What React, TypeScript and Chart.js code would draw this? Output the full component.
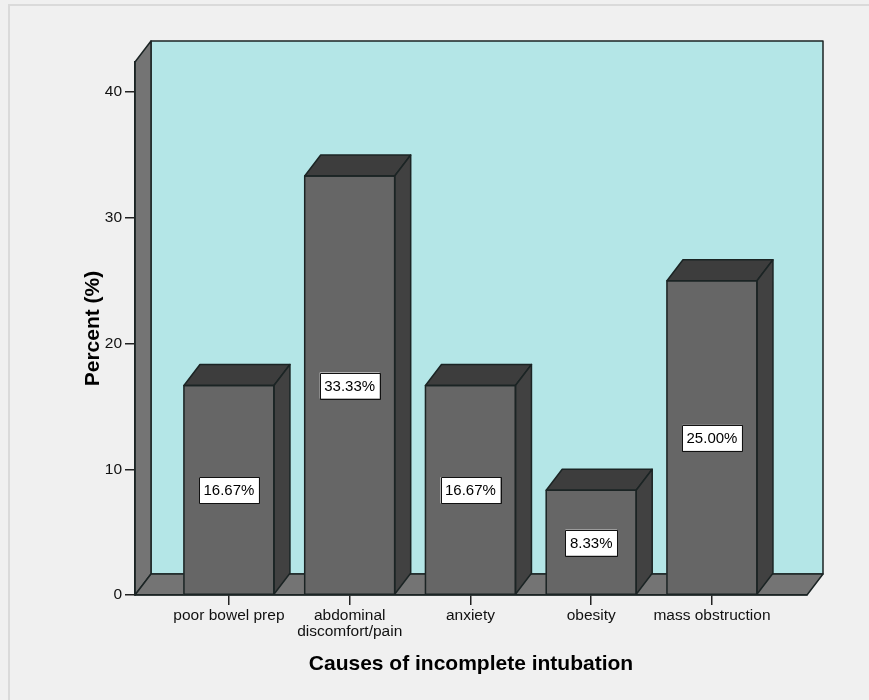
import React, { useEffect, useRef } from "react";
import { Chart, registerables } from "chart.js";

Chart.register(...registerables);

const categories: (string | string[])[] = [
  "poor bowel prep",
  ["abdominal", "discomfort/pain"],
  "anxiety",
  "obesity",
  "mass obstruction",
];
const percentValues = [16.67, 33.33, 16.67, 8.33, 25.0];
const percentLabels = ["16.67%", "33.33%", "16.67%", "8.33%", "25.00%"];
const yTickValues = [0, 10, 20, 30, 40];
const xTitle = "Causes of incomplete intubation";
const yTitle = "Percent (%)";

const DX = 16;
const DY = -21;
const OUTLINE = "#1b2424";

const threeD = {
  id: "threeD",
  beforeDraw(chart: any) {
    const ctx = chart.ctx;
    const { left, right, top, bottom } = chart.chartArea;
    ctx.save();
    ctx.fillStyle = "#f0f0f0";
    ctx.fillRect(0, 0, chart.width, chart.height);
    ctx.strokeStyle = "#dadada";
    ctx.lineWidth = 2;
    ctx.beginPath();
    ctx.moveTo(9, chart.height);
    ctx.lineTo(9, 5);
    ctx.lineTo(chart.width, 5);
    ctx.stroke();

    ctx.lineWidth = 1.5;
    ctx.strokeStyle = OUTLINE;
    ctx.lineJoin = "round";
    // back wall
    ctx.fillStyle = "#b4e6e7";
    ctx.beginPath();
    ctx.rect(left + DX, top + DY, right - left, bottom - top);
    ctx.fill();
    ctx.stroke();
    // left wall
    ctx.fillStyle = "#747474";
    ctx.beginPath();
    ctx.moveTo(left, top);
    ctx.lineTo(left + DX, top + DY);
    ctx.lineTo(left + DX, bottom + DY);
    ctx.lineTo(left, bottom);
    ctx.closePath();
    ctx.fill();
    ctx.stroke();
    // floor
    ctx.beginPath();
    ctx.moveTo(left, bottom);
    ctx.lineTo(left + DX, bottom + DY);
    ctx.lineTo(right + DX, bottom + DY);
    ctx.lineTo(right, bottom);
    ctx.closePath();
    ctx.fill();
    ctx.stroke();
    ctx.restore();
  },
  afterDatasetsDraw(chart: any) {
    const ctx = chart.ctx;
    const meta = chart.getDatasetMeta(0);
    const yScale = chart.scales.y;
    ctx.save();
    ctx.lineWidth = 1.5;
    ctx.strokeStyle = OUTLINE;
    ctx.lineJoin = "round";
    meta.data.forEach((bar: any, i: number) => {
      const { x, y, base, width } = bar.getProps(["x", "y", "base", "width"], true);
      const l = x - width / 2;
      const r = x + width / 2;
      // top face
      ctx.fillStyle = "#3d3d3d";
      ctx.beginPath();
      ctx.moveTo(l, y);
      ctx.lineTo(l + DX, y + DY);
      ctx.lineTo(r + DX, y + DY);
      ctx.lineTo(r, y);
      ctx.closePath();
      ctx.fill();
      ctx.stroke();
      // side face
      ctx.fillStyle = "#414141";
      ctx.beginPath();
      ctx.moveTo(r, y);
      ctx.lineTo(r + DX, y + DY);
      ctx.lineTo(r + DX, base + DY);
      ctx.lineTo(r, base);
      ctx.closePath();
      ctx.fill();
      ctx.stroke();
      // front outline
      ctx.beginPath();
      ctx.rect(l, y, width, base - y);
      ctx.stroke();

      // value label
      const cy = yScale.getPixelForValue(percentValues[i] / 2);
      ctx.font = "15px 'Liberation Sans', Arial, sans-serif";
      const tw = ctx.measureText(percentLabels[i]).width;
      const bw = tw + 9;
      const bh = 26;
      ctx.fillStyle = "#ffffff";
      ctx.fillRect(x - bw / 2, cy - bh / 2, bw, bh);
      ctx.lineWidth = 1;
      ctx.strokeStyle = "#111";
      ctx.strokeRect(Math.round(x - bw / 2) + 0.5, Math.round(cy - bh / 2) + 0.5, Math.round(bw), bh);
      ctx.fillStyle = "#000";
      ctx.textAlign = "center";
      ctx.textBaseline = "middle";
      ctx.fillText(percentLabels[i], x, cy + 1);
      ctx.lineWidth = 1.5;
      ctx.strokeStyle = OUTLINE;
    });
    ctx.restore();
  },
};

export default function App() {
  const ref = useRef<HTMLCanvasElement | null>(null);
  useEffect(() => {
    document.body.style.margin = "0";
    const canvas = ref.current;
    if (!canvas) return;
    const chart = new Chart(canvas, {
      type: "bar",
      data: {
        datasets: [
          {
            data: percentValues.map((v, i) => ({ x: i, y: v })),
            backgroundColor: "#666666",
            borderColor: OUTLINE,
            borderWidth: 0,
            barThickness: 90,
          },
        ],
      },
      options: {
        responsive: false,
        animation: false,
        devicePixelRatio: 1,
        layout: { padding: { left: 81, right: 62, top: 62, bottom: 23 } },
        plugins: { legend: { display: false }, tooltip: { enabled: false } },
        scales: {
          x: {
            type: "linear",
            offset: false,
            min: -0.778,
            max: 4.787,
            afterBuildTicks: (s: any) => {
              s.ticks = categories.map((_, i) => ({ value: i }));
            },
            afterFit: (s: any) => {
              s.height = 82;
            },
            ticks: {
              callback: (v: any) => categories[v as number],
              autoSkip: false,
              maxRotation: 0,
              padding: 3,
              color: "#111",
              font: { family: "'Liberation Sans', Arial, sans-serif", size: 15.5, lineHeight: 1.03 },
            },
            grid: {
              offset: false,
              drawOnChartArea: false,
              drawTicks: true,
              tickLength: 10,
              color: "#222",
              lineWidth: 1.5,
            },
            border: { display: true, color: OUTLINE, width: 1.5 },
            title: {
              display: true,
              text: xTitle,
              color: "#000",
              padding: 0,
              font: { family: "'Liberation Sans', Arial, sans-serif", size: 21, weight: "bold" },
            },
          },
          y: {
            min: 0,
            max: 42.4,
            afterBuildTicks: (s: any) => {
              s.ticks = yTickValues.map((v) => ({ value: v }));
            },
            afterFit: (s: any) => {
              s.width = 54;
            },
            ticks: {
              padding: 3,
              color: "#111",
              font: { family: "'Liberation Sans', Arial, sans-serif", size: 15.5 },
            },
            grid: { drawOnChartArea: false, drawTicks: true, tickLength: 10, color: "#222", lineWidth: 1.5 },
            border: { display: true, color: OUTLINE, width: 1.5 },
            title: {
              display: true,
              text: yTitle,
              color: "#000",
              padding: 0,
              font: { family: "'Liberation Sans', Arial, sans-serif", size: 21, weight: "bold" },
            },
          },
        },
      },
      plugins: [threeD],
    } as any);
    return () => chart.destroy();
  }, []);
  return (
    <div style={{ position: "absolute", left: 0, top: 0, width: 869, height: 700 }}>
      <canvas ref={ref} width={869} height={700} style={{ width: 869, height: 700, display: "block" }} />
    </div>
  );
}
